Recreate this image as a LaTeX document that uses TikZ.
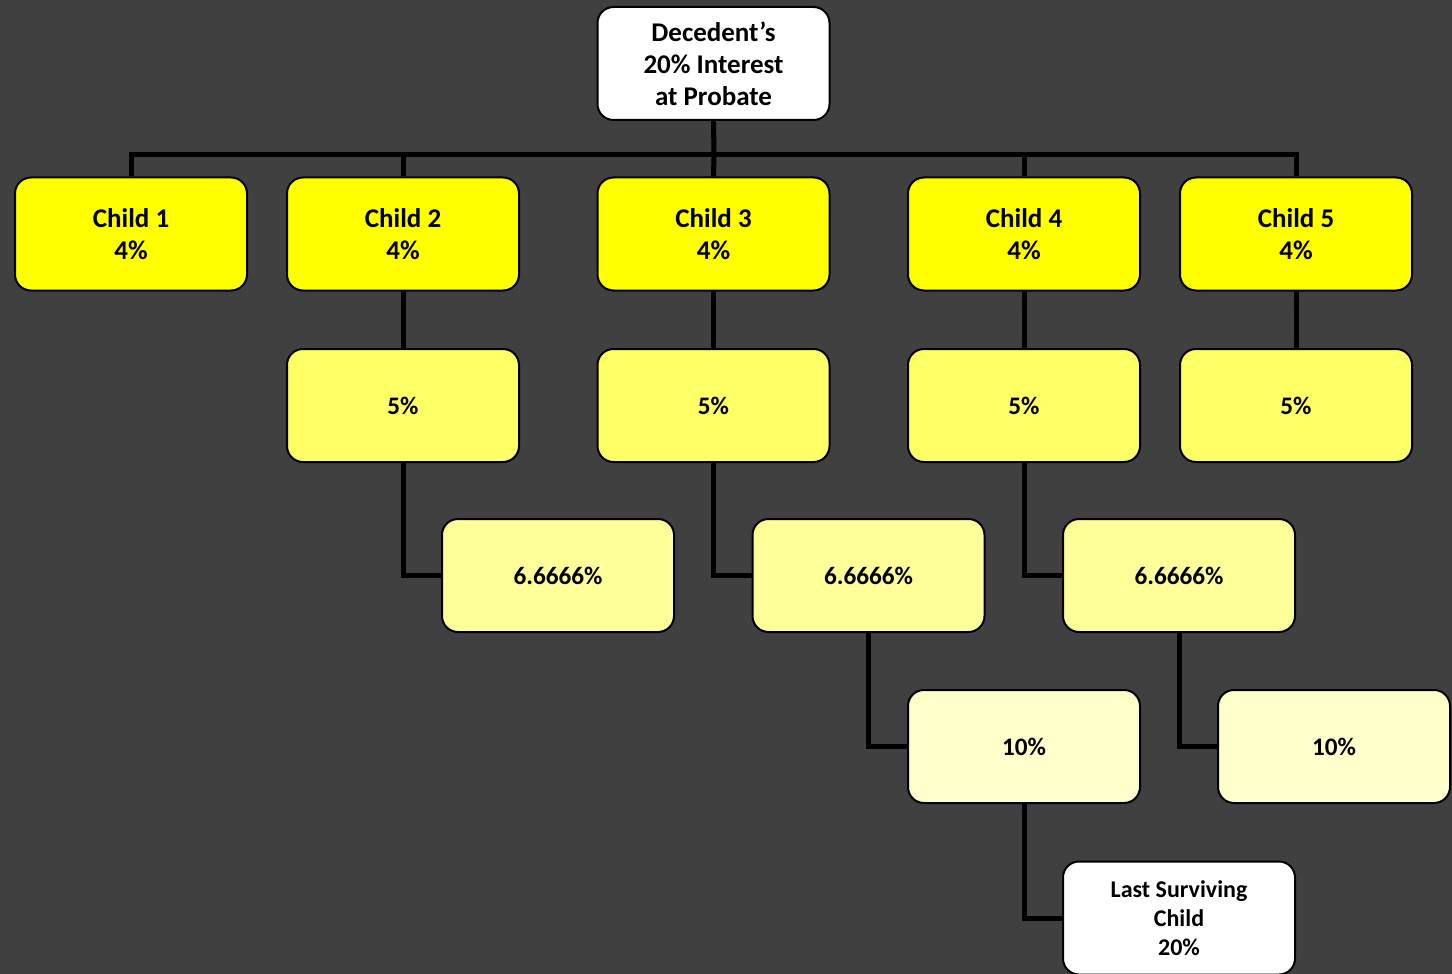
\documentclass[tikz,border=0pt]{standalone}
\usepackage{fontspec}
\setmainfont{Carlito}
\definecolor{bgc}{HTML}{404040}
\definecolor{y1}{HTML}{FFFF00}
\definecolor{y2}{HTML}{FFFF66}
\definecolor{y3}{HTML}{FFFF99}
\definecolor{y4}{HTML}{FFFFCC}
\begin{document}
\begin{tikzpicture}[x=0.5pt,y=-0.5pt,
  box/.style={draw=black, line width=1pt, rounded corners=8pt, minimum width=116pt, minimum height=56.5pt, align=center, inner sep=0pt, font=\fontsize{13.5}{16}\selectfont\bfseries},
  small/.style={font=\fontsize{12.6}{15}\selectfont\bfseries},
  tiny/.style={font=\fontsize{12}{14.5}\selectfont\bfseries},
  conn/.style={draw=black, line width=2.5pt}]
\fill[bgc] (0,0) rectangle (1452,974);
\clip (0,0) rectangle (1452,974);
% root
\node[box, fill=white] (root) at (713.5,63.5) {Decedent’s\\20\% Interest\\at Probate};
% children
\node[box, fill=y1] (c1) at (131,234) {Child 1\\4\%};
\node[box, fill=y1] (c2) at (403,234) {Child 2\\4\%};
\node[box, fill=y1] (c3) at (713.5,234) {Child 3\\4\%};
\node[box, fill=y1] (c4) at (1024,234) {Child 4\\4\%};
\node[box, fill=y1] (c5) at (1296,234) {Child 5\\4\%};
% 5% row
\node[box, small, fill=y2] (f2) at (403,405.5) {5\%};
\node[box, small, fill=y2] (f3) at (713.5,405.5) {5\%};
\node[box, small, fill=y2] (f4) at (1024,405.5) {5\%};
\node[box, small, fill=y2] (f5) at (1296,405.5) {5\%};
% 6.6666% row
\node[box, small, fill=y3] (s2) at (558,575.5) {6.6666\%};
\node[box, small, fill=y3] (s3) at (868.5,575.5) {6.6666\%};
\node[box, small, fill=y3] (s4) at (1179,575.5) {6.6666\%};
% 10% row
\node[box, small, fill=y4] (t3) at (1024,746.5) {10\%};
\node[box, small, fill=y4] (t4) at (1334,746.5) {10\%};
% last
\node[box, tiny, fill=white] (last) at (1179,918) {Last Surviving\\Child\\20\%};
% connectors
\coordinate (bar) at (714,155);
\draw[conn] (root.south) -- (bar);
\draw[conn] (c1.north) |- (bar);
\draw[conn] (c5.north) |- (bar);
\draw[conn] (c2.north) |- (bar);
\draw[conn] (c4.north) |- (bar);
\draw[conn] (c3.north) -- (bar);
\draw[conn] (c2.south) -- (f2.north);
\draw[conn] (c3.south) -- (f3.north);
\draw[conn] (c4.south) -- (f4.north);
\draw[conn] (c5.south) -- (f5.north);
\draw[conn] (f2.south) |- (s2.west);
\draw[conn] (f3.south) |- (s3.west);
\draw[conn] (f4.south) |- (s4.west);
\draw[conn] (s3.south) |- (t3.west);
\draw[conn] (s4.south) |- (t4.west);
\draw[conn] (t3.south) |- (last.west);
\end{tikzpicture}
\end{document}
